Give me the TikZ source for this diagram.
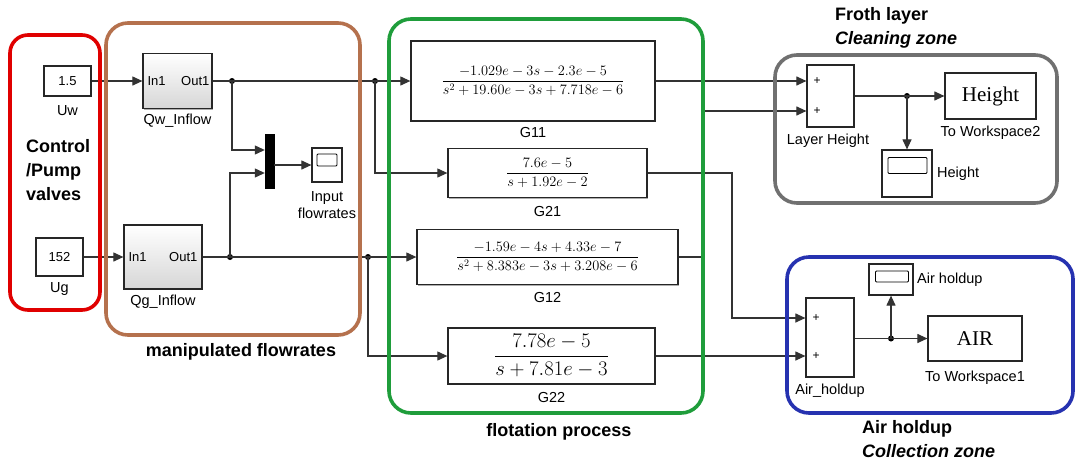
\documentclass[tikz,border=0pt]{standalone}
\usepackage{amsmath}
\usepackage[no-math]{fontspec}
\newfontfamily\labelfont{Liberation Sans}
\newfontfamily\wsfont{Liberation Serif}
\usetikzlibrary{arrows.meta,shadows,calc}

\definecolor{ctrlred}{HTML}{E00000}
\definecolor{flowbrown}{HTML}{B5714D}
\definecolor{procgreen}{HTML}{1F9D3B}
\definecolor{frothgray}{HTML}{707070}
\definecolor{airblue}{HTML}{2632B0}
\definecolor{wire}{HTML}{333333}

\begin{document}
\begin{tikzpicture}[x=1pt,y=-1pt,
  blk/.style={draw=black!85, line width=1.2pt, fill=white, inner sep=0pt,
    drop shadow={shadow xshift=1.4pt, shadow yshift=-1.4pt, fill=black!45, opacity=0.7}},
  subsys/.style={blk, top color=white, bottom color=black!16},
  sig/.style={draw=wire, line width=1.1pt},
  arr/.style={sig, -{Triangle[length=10pt,width=9pt]}},
  dot/.style={circle, fill=black, inner sep=0pt, minimum size=6pt},
  lab/.style={font=\labelfont\fontsize{14.5}{17}\selectfont, inner sep=0pt},
  port/.style={font=\labelfont\fontsize{13}{15}\selectfont, inner sep=0pt},
  captxt/.style={font=\labelfont\bfseries\fontsize{18}{24}\selectfont, inner sep=0pt, align=left},
  capitxt/.style={font=\labelfont\bfseries\itshape\fontsize{18}{24}\selectfont, inner sep=0pt},
  region/.style={line width=3.6pt, rounded corners=22pt},
  tf/.style={blk, line width=1.3pt},
  plus/.style={font=\labelfont\fontsize{12}{12}\selectfont, inner sep=0pt}
]
\path[use as bounding box, fill=white] (0,0) rectangle (1075,464);

% ---- constants ----
\node[blk, minimum width=47pt, minimum height=30pt] (uw) at (67.5,81) {\labelfont\fontsize{13}{15}\selectfont 1.5};
\node[blk, minimum width=47pt, minimum height=38pt] (ug) at (59.5,257) {\labelfont\fontsize{13}{15}\selectfont 152};
\node[lab] at (67.5,111) {Uw};
\node[lab] at (59.5,289) {Ug};

% ---- flow subsystems ----
\node[subsys, minimum width=69pt, minimum height=55pt] (qw) at (177.5,81) {};
\node[port, anchor=west] at ($(qw.west)+(5,0)$) {In1};
\node[port, anchor=east] at ($(qw.east)+(-3,0)$) {Out1};
\node[lab] at (177.5,121) {Qw\_Inflow};

\node[subsys, minimum width=78pt, minimum height=64pt] (qg) at (163,257) {};
\node[port, anchor=west] at ($(qg.west)+(5,0)$) {In1};
\node[port, anchor=east] at ($(qg.east)+(-5,0)$) {Out1};
\node[lab] at (163,302) {Qg\_Inflow};

% ---- mux and scope ----
\node[draw=black, fill=black, minimum width=9pt, minimum height=54pt, inner sep=0pt] (mux) at (269.5,161) {};
\node[blk, minimum width=30pt, minimum height=34pt] (sc1) at (327,165) {};
\node[draw=black, line width=0.9pt, minimum width=20pt, minimum height=12pt, inner sep=0pt, rounded corners=1pt] (sc1d) at (327,160) {};
\node[lab, align=center] at (327,205) {Input\\flowrates};

% ---- transfer functions ----
\node[tf, minimum width=244pt, minimum height=80pt] (g11) at (533,81)
  {\fontsize{14}{16}\selectfont$\dfrac{-1.029e-3s-2.3e-5}{s^2+19.60e-3s+7.718e-6}$};
\node[lab] at (533,133) {G11};
\node[tf, minimum width=199pt, minimum height=49pt] (g21) at (547.5,173)
  {\fontsize{14.5}{16}\selectfont$\dfrac{7.6e-5}{s+1.92e-2}$};
\node[lab] at (547.5,212) {G21};
\node[tf, minimum width=261pt, minimum height=55pt] (g12) at (547.5,257)
  {\fontsize{14}{16}\selectfont$\dfrac{-1.59e-4s+4.33e-7}{s^2+8.383e-3s+3.208e-6}$};
\node[lab] at (547.5,298) {G12};
\node[tf, minimum width=207pt, minimum height=56pt] (g22) at (551.5,356)
  {\fontsize{20}{22}\selectfont$\dfrac{7.78e-5}{s+7.81e-3}$};
\node[lab] at (551.5,397) {G22};

% ---- froth layer ----
\node[blk, minimum width=47pt, minimum height=62pt] (lh) at (830.5,96) {};
\node[plus] at (817,81) {+};
\node[plus] at (817,111) {+};
\node[lab] at (828,141) {Layer Height};
\node[blk, minimum width=91pt, minimum height=46pt] (ws2) at (990.5,96) {\wsfont\fontsize{21}{23}\selectfont Height};
\node[lab] at (990.5,133) {To Workspace2};
\node[blk, minimum width=50pt, minimum height=47pt] (sc2) at (907,173.5) {};
\node[draw=black, line width=0.9pt, minimum width=39pt, minimum height=16pt, inner sep=0pt, rounded corners=1pt] (sc2d) at (907.5,165.5) {};
\node[lab, anchor=west] at (937,173.5) {Height};
\node[dot] (dh) at (907,96) {};

% ---- air holdup ----
\node[blk, minimum width=48pt, minimum height=79pt] (ah) at (830,337.5) {};
\node[plus] at (816,318) {+};
\node[plus] at (816,356) {+};
\node[lab] at (830,391) {Air\_holdup};
\node[blk, minimum width=94pt, minimum height=45pt] (air) at (975,338.5) {\wsfont\fontsize{21}{23}\selectfont AIR};
\node[lab] at (975,378) {To Workspace1};
\node[blk, minimum width=44pt, minimum height=31pt] (sc3) at (891,279.5) {};
\node[draw=black, line width=0.9pt, minimum width=33pt, minimum height=11pt, inner sep=0pt, rounded corners=1pt] (sc3d) at (892,276.5) {};
\node[lab, anchor=west] at (917,279.5) {Air holdup};
\node[dot] (da) at (891,338.5) {};

% ---- branch points ----
\node[dot] (d1) at (232,81) {};
\node[dot] (d2) at (375,81) {};
\node[dot] (d3) at (230,257) {};
\node[dot] (d4) at (368,257) {};
\coordinate (j12) at (703,180);
\coordinate (j21) at (732,250);

% ---- signals ----
\draw[arr] (uw.east) -- (qw.west);
\draw[arr] (ug.east) -- (qg.west);
\draw[sig] (qw.east) -- (d1.center) -- (d2.center);
\draw[arr] (d2.center) -- (g11.west);
\draw[arr] (d1.center) |- ([yshift=11pt]mux.west);
\draw[sig] (qg.east) -- (d3.center) -- (d4.center);
\draw[arr] (d4.center) -- (g12.west);
\draw[arr] (d3.center) |- ([yshift=-12pt]mux.west);
\draw[arr] (sc1.west -| mux.east) -- (sc1.west);
\draw[arr] (d2.center) |- (g21.west);
\draw[arr] (d4.center) |- (g22.west);

\draw[arr] (g11.east) -- (g11.east -| lh.west);
\draw[arr] (g12.east) -| (j12) |- ([yshift=-15pt]lh.west);
\draw[arr] (g21.east) -| (j21) |- ([yshift=19.5pt]ah.west);
\draw[arr] (g22.east) -- (g22.east -| ah.west);

\draw[sig] (lh.east) -- (dh.center);
\draw[arr] (dh.center) -- (ws2.west);
\draw[arr] (dh.center) -- (sc2.north);
\draw[sig] (ah.east |- da) -- (da.center);
\draw[arr] (da.center) -- (air.west);
\draw[arr] (da.center) -- (sc3.south);

% ---- grouping frames ----
\draw[region, ctrlred, rounded corners=18pt] (10,35) rectangle (100,310);
\draw[region, flowbrown] (106,23) rectangle (360,335);
\draw[region, procgreen] (389,19) rectangle (703,413);
\draw[region, frothgray] (775,55) rectangle (1057,203);
\draw[region, airblue] (787,257) rectangle (1073,413);

% ---- captions ----
\node[captxt, anchor=west] at (26,170) {Control\\/Pump\\valves};
\node[captxt] at (241,352) {manipulated flowrates};
\node[captxt] at (559,432) {flotation process};
\node[captxt, anchor=west] at (835,16) {Froth layer};
\node[capitxt, anchor=west] at (835,40) {Cleaning zone};
\node[captxt, anchor=west] at (862,429) {Air holdup};
\node[capitxt, anchor=west] at (862,451) {Collection zone};
\end{tikzpicture}
\end{document}
